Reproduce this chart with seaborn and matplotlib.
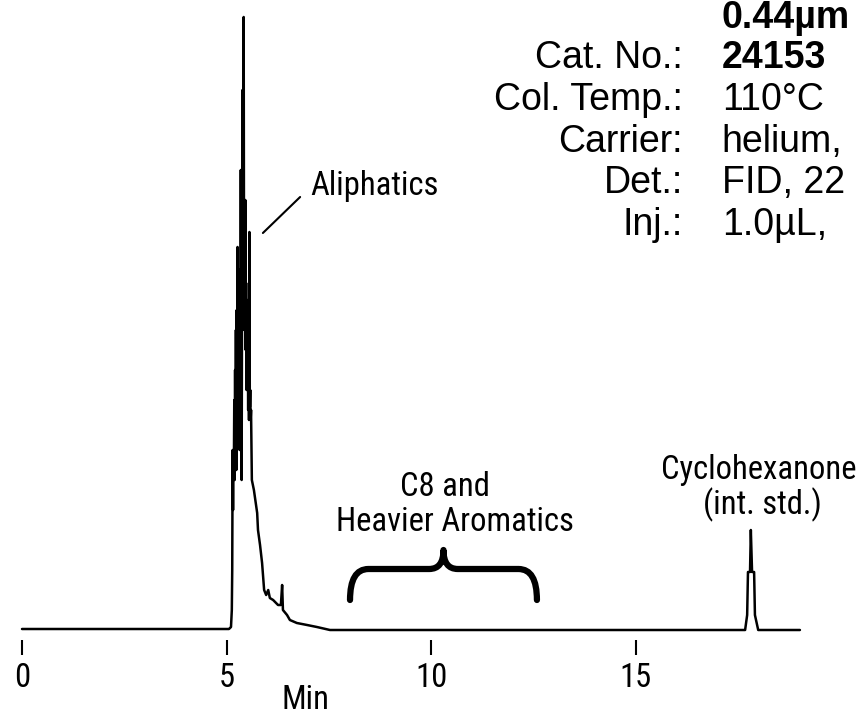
"""
Cromatograma: aromáticos C8+ en gasolina (reproducción de la figura).
"""
import matplotlib
matplotlib.use("Agg")
import matplotlib.pyplot as plt
from matplotlib import font_manager
from matplotlib.path import Path
from matplotlib.patches import PathPatch
import pandas as pd
import seaborn as sns

# Traza: tiempo (min) y respuesta (unidades arbitrarias)
tiempo = [0.00, 5.06, 5.11, 5.13, 5.14, 5.15, 5.16, 5.17, 5.18, 5.19,
          5.20, 5.21, 5.22, 5.23, 5.24, 5.25, 5.26, 5.27, 5.28, 5.29,
          5.30, 5.31, 5.32, 5.33, 5.34, 5.35, 5.36, 5.37, 5.38, 5.39,
          5.40, 5.41, 5.42, 5.43, 5.44, 5.45, 5.46, 5.47, 5.48, 5.49,
          5.50, 5.51, 5.52, 5.53, 5.54, 5.55, 5.56, 5.57, 5.58, 5.59,
          5.60, 5.62, 5.67, 5.75, 5.77, 5.82, 5.87, 5.92, 5.97, 6.02,
          6.06, 6.14, 6.26, 6.33, 6.36, 6.38, 6.48, 6.55, 6.72, 6.97,
          7.21, 7.53, 17.68, 17.73, 17.75, 17.80, 17.82, 17.85, 17.90, 17.92,
          18.00, 19.02]
respuesta = [1, 1, 3, 20, 60, 180, 120, 175, 160, 230,
             150, 260, 170, 300, 160, 320, 230, 383, 210, 330,
             200, 360, 180, 330, 260, 460, 250, 150, 330, 540,
             300, 420, 613, 320, 400, 300, 430, 280, 347, 240,
             330, 250, 300, 220, 330, 210, 398, 223, 240, 210,
             220, 150, 140, 117, 100, 85, 67, 40, 35, 40,
             32, 30, 25, 25, 45, 20, 15, 10, 7, 5,
             3, 0, 0, 15, 58, 58, 100, 58, 58, 15,
             0, 0]

ticks_min = [0, 5, 10, 15]
etiquetas_izq = ["", "Cat. No.:", "Col. Temp.:", "Carrier:", "Det.:", "Inj.:"]
valores_der = ["0.44µm", "24153", "110°C", "helium,", "FID, 22", "1.0µL,"]
negrita = [True, True, False, False, False, False]

sns.set_theme(style="white")
plt.rcParams['font.family'] = ['Liberation Sans', 'DejaVu Sans']
plt.rcParams['text.color'] = 'black'

# buscar una fuente estrecha instalada
fuentes = font_manager.fontManager.ttflist
nombres = {f.name for f in fuentes}
estirado = 'normal'
if 'Liberation Sans Narrow' in nombres:
    narrow = ['Liberation Sans Narrow', 'DejaVu Sans']
    tam_n = 23.5
elif 'Roboto Condensed' in nombres:
    narrow = ['Roboto Condensed', 'DejaVu Sans']
    tam_n = 23.5
elif any(f.name == 'DejaVu Sans' and 'ondensed' in f.fname for f in fuentes):
    narrow = ['DejaVu Sans']
    estirado = 'condensed'
    tam_n = 21
else:
    narrow = ['Liberation Sans', 'DejaVu Sans']
    tam_n = 20
fn = dict(family=narrow, fontstretch=estirado, fontsize=tam_n)

df = pd.DataFrame({"t": tiempo, "s": respuesta})

fig = plt.figure(figsize=(8.57, 7.18), dpi=100)
ax = fig.add_axes([0, 78 / 718, 1, 640 / 718])

sns.lineplot(data=df, x="t", y="s", ax=ax, color="black", linewidth=1.8,
             estimator=None, sort=False)

ax.set_xlim(-22 / 40.9, 835 / 40.9)
ax.set_ylim(-10, 630)
for sp in ax.spines.values():
    sp.set_visible(False)
ax.set_yticks([])
ax.set_xticks(ticks_min)
ax.set_xticklabels([str(v) for v in ticks_min], **fn)
ax.tick_params(axis='x', direction='out', length=11, width=1.5, color='black',
               pad=5, labelcolor='black', bottom=True)
ax.set_xlabel("")
ax.set_ylabel("")
ax.text(6.92, -70, "Min", ha='center', va='center', clip_on=False, **fn)

# anotaciones de picos
ax.text(7.04, 444, "Aliphatics", ha='left', va='center', **fn)
ax.plot([5.89, 6.80], [397, 433], color='black', lw=1.5)

ax.text(10.34, 143, "C8 and", ha='center', va='center', **fn)
ax.text(10.59, 108, "Heavier Aromatics", ha='center', va='center', **fn)

# llave
bx0, bx1 = 8.02, 12.59
bm = (bx0 + bx1) / 2
yt, yb, ym = 30, 61, 80
verts = [(bx0, yt), (bx0, yb), (bx0 + 0.45, yb), (bm - 0.35, yb),
         (bm, yb), (bm, ym), (bm, yb), (bm + 0.35, yb),
         (bx1 - 0.45, yb), (bx1, yb), (bx1, yt)]
codes = [Path.MOVETO, Path.CURVE3, Path.CURVE3, Path.LINETO,
         Path.CURVE3, Path.CURVE3, Path.CURVE3, Path.CURVE3,
         Path.LINETO, Path.CURVE3, Path.CURVE3]
ax.add_patch(PathPatch(Path(verts, codes), fill=False, lw=4.5, color='black',
                       capstyle='round', joinstyle='round'))

ax.text(18.02, 160, "Cyclohexanone", ha='center', va='center', clip_on=False, **fn)
ax.text(18.09, 125, "(int. std.)", ha='center', va='center', clip_on=False, **fn)

# bloque de condiciones (recortado en el borde derecho)
filas_s = [612, 572, 530, 488, 447, 405]
for lab, val, b, s in zip(etiquetas_izq, valores_der, negrita, filas_s):
    if lab:
        ax.text(16.16, s, lab, fontsize=27, ha='right', va='center', clip_on=False)
    ax.text(17.11, s, val, fontsize=27, ha='left', va='center', clip_on=False,
            fontweight='bold' if b else 'normal')

fig.savefig("out.png", dpi=100)
